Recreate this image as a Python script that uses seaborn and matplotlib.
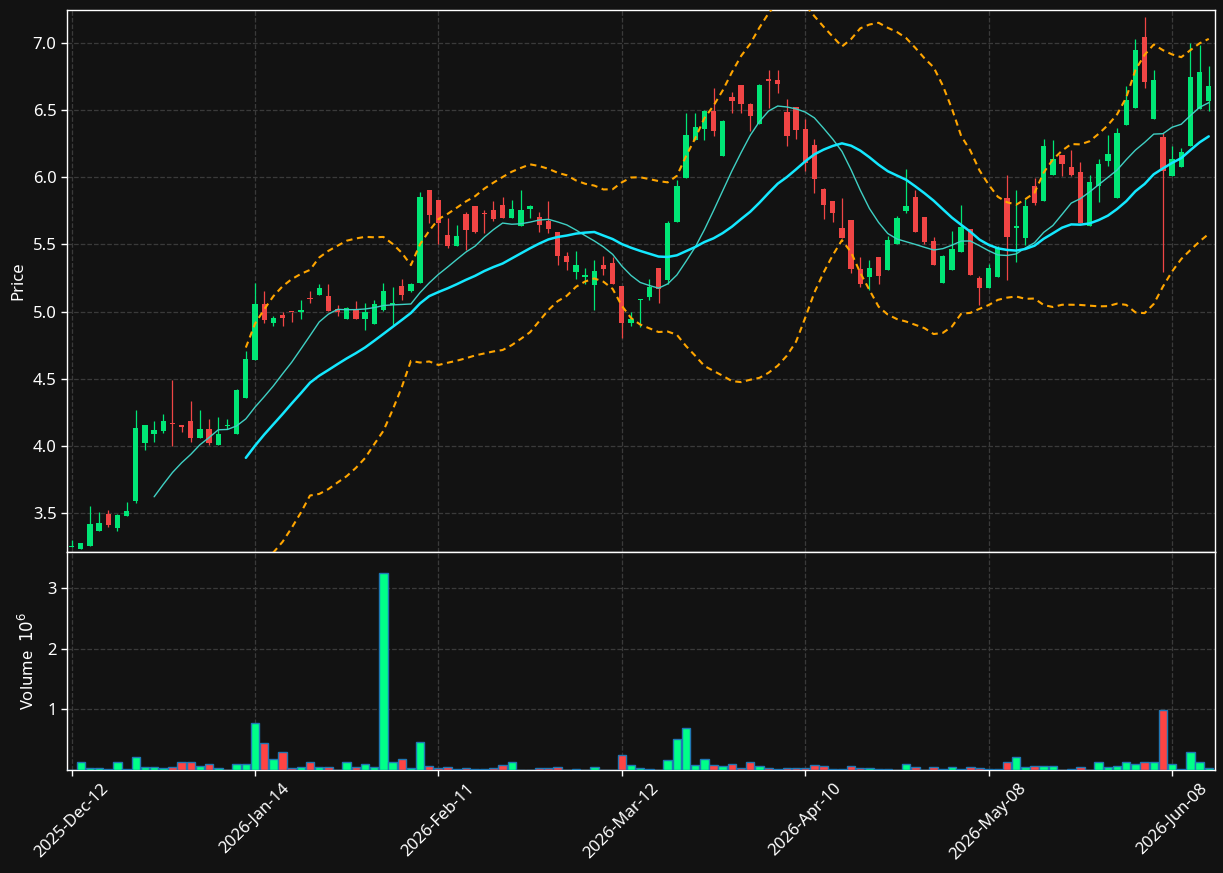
import numpy as np
import pandas as pd
import matplotlib
matplotlib.use("Agg")
import matplotlib.pyplot as plt
import seaborn as sns

OPEN = [3.244, 3.229, 3.256, 3.368, 3.495, 3.39, 3.48, 3.592, 4.025, 4.092,
        4.114, 4.166, 4.158, 4.182, 4.057, 4.129, 4.01, 4.147, 4.092, 4.356,
        4.639, 5.055, 4.913, 4.973, 5.0, 4.998, 5.099, 5.122, 5.114, 5.02,
        4.943, 5.01, 4.943, 4.908, 5.01, 5.052, 5.192, 5.152, 5.214, 5.905,
        5.831, 5.57, 5.488, 5.726, 5.786, 5.728, 5.756, 5.794, 5.697, 5.637,
        5.764, 5.704, 5.677, 5.592, 5.413, 5.296, 5.259, 5.197, 5.346, 5.361,
        5.189, 4.913, 5.085, 5.112, 5.328, 5.236, 5.665, 5.995, 6.278, 6.357,
        6.496, 6.156, 6.6, 6.69, 6.546, 6.397, 6.727, 6.727, 6.489, 6.524,
        6.362, 6.241, 5.915, 5.823, 5.622, 5.682, 5.321, 5.259, 5.403, 5.311,
        5.505, 5.751, 5.853, 5.704, 5.525, 5.214, 5.311, 5.445, 5.614, 5.249,
        5.177, 5.256, 5.849, 5.62, 5.546, 5.938, 5.821, 6.015, 6.169, 6.08,
        6.042, 5.64, 5.938, 6.124, 5.844, 6.392, 6.514, 7.047, 6.432, 6.303,
        6.012, 6.074, 6.231, 6.509, 6.571]
HIGH = [3.30, 3.279, 3.552, 3.51, 3.525, 3.49, 3.585, 4.269, 4.152, 4.189,
        4.239, 4.488, 4.158, 4.331, 4.269, 4.197, 4.217, 4.197, 4.425, 4.704,
        5.214, 5.154, 4.968, 5.0, 5.0, 5.085, 5.152, 5.204, 5.209, 5.05,
        5.035, 5.082, 5.065, 5.09, 5.216, 5.18, 5.241, 5.216, 5.888, 5.905,
        5.831, 5.694, 5.644, 5.744, 5.786, 5.756, 5.823, 5.853, 5.828, 5.903,
        5.794, 5.741, 5.823, 5.592, 5.443, 5.45, 5.326, 5.383, 5.413, 5.403,
        5.189, 4.995, 5.092, 5.243, 5.328, 5.672, 5.98, 6.476, 6.476, 6.5,
        6.665, 6.43, 6.638, 6.69, 6.55, 6.695, 6.799, 6.799, 6.583, 6.524,
        6.434, 6.284, 5.92, 5.823, 5.843, 5.682, 5.403, 5.388, 5.403, 5.565,
        5.709, 6.06, 5.903, 5.704, 5.555, 5.42, 5.6, 5.791, 5.614, 5.266,
        5.353, 5.491, 6.017, 5.906, 5.839, 5.993, 6.285, 6.278, 6.169, 6.203,
        6.112, 6.02, 6.136, 6.315, 6.367, 6.68, 7.03, 7.196, 6.799, 6.328,
        6.231, 6.218, 7.0, 6.985, 6.829]
LOW = [3.244, 3.229, 3.256, 3.363, 3.398, 3.366, 3.48, 3.575, 3.97, 4.027,
       4.095, 4.0, 4.102, 4.027, 4.057, 4.01, 4.01, 4.127, 4.092, 4.356,
       4.639, 4.915, 4.896, 4.896, 4.92, 4.945, 5.065, 5.122, 5.002, 4.97,
       4.943, 4.943, 4.863, 4.908, 5.005, 4.898, 5.09, 5.147, 5.214, 5.662,
       5.507, 5.475, 5.488, 5.458, 5.587, 5.587, 5.677, 5.697, 5.697, 5.637,
       5.699, 5.594, 5.582, 5.346, 5.313, 5.244, 5.209, 5.01, 5.271, 5.204,
       4.8, 4.896, 4.888, 5.087, 5.064, 5.206, 5.665, 5.995, 6.278, 6.278,
       6.305, 6.156, 6.476, 6.476, 6.347, 6.397, 6.516, 6.628, 6.231, 6.285,
       6.05, 5.881, 5.692, 5.664, 5.55, 5.291, 5.184, 5.159, 5.209, 5.311,
       5.505, 5.731, 5.59, 5.502, 5.348, 5.214, 5.311, 5.445, 5.274, 5.047,
       5.177, 5.256, 5.236, 5.367, 5.496, 5.797, 5.821, 6.015, 6.007, 6.007,
       5.658, 5.64, 5.814, 6.082, 5.844, 6.392, 6.514, 6.665, 6.432, 5.293,
       6.012, 6.074, 6.231, 6.509, 6.496]
CLOSE = [3.256, 3.279, 3.42, 3.428, 3.413, 3.487, 3.517, 4.137, 4.152, 4.122,
         4.182, 4.162, 4.144, 4.057, 4.129, 4.025, 4.092, 4.159, 4.42, 4.644,
         5.055, 4.935, 4.95, 4.953, 4.996, 5.01, 5.092, 5.174, 5.002, 5.0,
         5.03, 4.943, 4.995, 5.055, 5.152, 5.06, 5.122, 5.209, 5.853, 5.721,
         5.662, 5.488, 5.562, 5.607, 5.592, 5.724, 5.689, 5.697, 5.764, 5.756,
         5.786, 5.644, 5.614, 5.413, 5.368, 5.346, 5.271, 5.301, 5.318, 5.204,
         4.915, 4.945, 5.092, 5.186, 5.169, 5.663, 5.935, 6.318, 6.377, 6.496,
         6.342, 6.422, 6.566, 6.546, 6.459, 6.69, 6.72, 6.692, 6.305, 6.355,
         6.104, 5.988, 5.794, 5.736, 5.55, 5.316, 5.206, 5.323, 5.266, 5.532,
         5.697, 5.786, 5.595, 5.52, 5.348, 5.415, 5.465, 5.629, 5.274, 5.179,
         5.323, 5.474, 5.553, 5.638, 5.789, 5.806, 6.236, 6.139, 6.102, 6.02,
         5.658, 5.968, 6.102, 6.176, 6.333, 6.578, 6.95, 6.707, 6.727, 6.05,
         6.139, 6.191, 6.749, 6.787, 6.682]
VOLUME_M = [0.003, 0.124, 0.036, 0.036, 0.02, 0.124, 0.02, 0.207, 0.052, 0.052,
            0.036, 0.052, 0.124, 0.14, 0.074, 0.107, 0.036, 0.005, 0.107, 0.107,
            0.769, 0.438, 0.174, 0.289, 0.036, 0.052, 0.124, 0.052, 0.052, 0.008,
            0.124, 0.052, 0.107, 0.052, 3.248, 0.124, 0.174, 0.036, 0.455, 0.074,
            0.036, 0.052, 0.01, 0.036, 0.02, 0.01, 0.036, 0.09, 0.124, 0.008,
            0.008, 0.036, 0.036, 0.052, 0.005, 0.02, 0.005, 0.052, 0.005, 0.005,
            0.24, 0.09, 0.036, 0.02, 0.008, 0.157, 0.504, 0.686, 0.09, 0.174,
            0.09, 0.074, 0.107, 0.036, 0.124, 0.074, 0.036, 0.02, 0.036, 0.036,
            0.036, 0.09, 0.074, 0.02, 0.02, 0.074, 0.036, 0.036, 0.02, 0.02,
            0.008, 0.107, 0.052, 0.005, 0.052, 0.02, 0.052, 0.02, 0.052, 0.036,
            0.02, 0.02, 0.14, 0.207, 0.052, 0.074, 0.074, 0.074, 0.005, 0.02,
            0.052, 0.005, 0.124, 0.052, 0.074, 0.124, 0.107, 0.124, 0.124, 0.983,
            0.107, 0.02, 0.289, 0.124, 0.036]
TICK_LABELS = ["2025-Dec-12", "2026-Jan-14", "2026-Feb-11", "2026-Mar-12",
               "2026-Apr-10", "2026-May-08", "2026-Jun-08"]

BG = "#121212"
UP, DOWN = "#00e676", "#f04545"
VUP, VDOWN = "#00ff88", "#ff4444"
FS = 12

sns.set_theme(style="dark")
plt.rcParams.update({
    "font.family": ["Noto Sans", "DejaVu Sans"],
    "figure.facecolor": BG,
    "axes.facecolor": BG,
    "axes.edgecolor": "white",
    "axes.labelcolor": "white",
    "xtick.color": "white",
    "ytick.color": "white",
    "text.color": "white",
    "xtick.bottom": True,
    "ytick.left": True,
})

df = pd.DataFrame({"i": np.arange(len(CLOSE)), "o": OPEN, "h": HIGH, "l": LOW,
                   "c": CLOSE, "v": VOLUME_M})
df["up"] = df["c"] >= df["o"]
df["ma10"] = df["c"].rolling(10).mean()
df["ma20"] = df["c"].rolling(20).mean()
sd = df["c"].rolling(20).std()
df["bb_up"] = df["ma20"] + 2 * sd
df["bb_lo"] = df["ma20"] - 2 * sd

W, H = 1223, 873
fig = plt.figure(figsize=(W / 100, H / 100), dpi=100)
ax = fig.add_axes([67 / W, 1 - 552 / H, (1215 - 67) / W, (552 - 10) / H])
axv = fig.add_axes([67 / W, 1 - 770 / H, (1215 - 67) / W, (770 - 552) / H], sharex=ax)

cols = np.where(df["up"], UP, DOWN)
ax.vlines(df["i"], df["l"], df["h"], colors=cols, lw=0.9, zorder=3)
body_lo = np.minimum(df["o"], df["c"])
body_h = np.maximum((df["c"] - df["o"]).abs(), 0.012)
ax.bar(df["i"], body_h, bottom=body_lo, width=0.58, color=cols, zorder=4, lw=0)

sns.lineplot(data=df, x="i", y="ma10", ax=ax, color="#3fd0c4", lw=1.0, zorder=5)
sns.lineplot(data=df, x="i", y="ma20", ax=ax, color="#14e8ff", lw=1.8, zorder=5)
for col in ["bb_up", "bb_lo"]:
    sns.lineplot(data=df, x="i", y=col, ax=ax, color="#ffa500", lw=1.5,
                 dashes=False, zorder=5).lines[-1].set_dashes([3, 2.2])

vcols = np.where(df["up"], VUP, VDOWN)
axv.bar(df["i"], df["v"], width=0.92, color=vcols, edgecolor="#1f77b4", lw=1.0, zorder=3)

ax.set_xlim(-0.5, 124.68)
ax.set_ylim(3.21, 7.246)
axv.set_ylim(0, 3.6)

ticks = np.arange(0, len(CLOSE), 20)
axv.set_xticks(ticks)
axv.set_xticklabels(TICK_LABELS, rotation=45, ha="center", fontsize=FS)
yt = [3.5, 4.0, 4.5, 5.0, 5.5, 6.0, 6.5, 7.0]
ax.set_yticks(yt)
ax.set_yticklabels([f"{t:.1f}" for t in yt], fontsize=FS)
axv.set_yticks([1, 2, 3])
axv.set_yticklabels(["1", "2", "3"], fontsize=FS)
ax.tick_params(axis="x", labelbottom=False, bottom=False)
for a in (ax, axv):
    a.grid(True, ls="--", color="#3a3a3a", lw=0.9)
    a.set_axisbelow(True)
    for s in a.spines.values():
        s.set_color("white")
        s.set_linewidth(1.0)
    a.tick_params(length=4, width=1, colors="white")
ax.set_xlabel("")
axv.set_xlabel("")
ax.set_ylabel("Price", fontsize=FS)
axv.set_ylabel(r"Volume  $10^{6}$", fontsize=FS)
ax.yaxis.set_label_coords(-0.035, 0.5)
axv.yaxis.set_label_coords(-0.025, 0.5)

fig.savefig("out.png", dpi=100, facecolor=BG)
